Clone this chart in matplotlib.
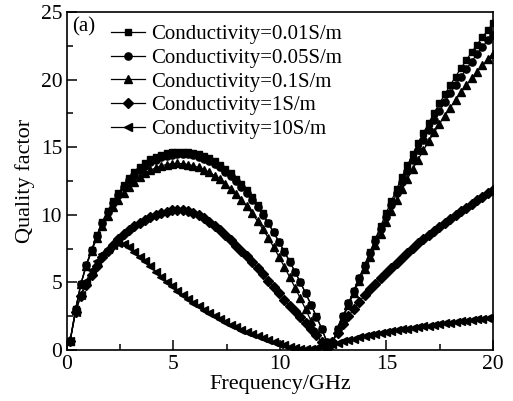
import numpy as np
import matplotlib
matplotlib.use("Agg")
import matplotlib.pyplot as plt
from matplotlib.ticker import MultipleLocator

plt.rcParams['font.family'] = ['Liberation Serif', 'DejaVu Serif']

# Q, one value per marker (80 markers, 0.15 .. 20 GHz)
q_001 = [0.7, 3.0, 4.9, 6.3, 7.4, 8.5, 9.5, 10.3, 11.0, 11.6,
         12.2, 12.75, 13.2, 13.55, 13.85, 14.1, 14.3, 14.45, 14.55, 14.62,
         14.66, 14.68, 14.66, 14.6, 14.5, 14.36, 14.18, 13.96, 13.7, 13.4,
         13.06, 12.68, 12.26, 11.8, 11.3, 10.76, 10.1, 9.4, 8.72, 8.02,
         7.3, 6.56, 5.8, 5.02, 4.2, 3.36, 2.48, 1.58, 0.5,
         0.55, 1.55, 2.5, 3.45, 4.4, 5.35, 6.3, 7.25, 8.2, 9.15,
         10.1, 11.0, 11.9, 12.8, 13.65, 14.48, 15.28, 16.06, 16.81, 17.54,
         18.24, 18.92, 19.58, 20.22, 20.84, 21.44, 22.02, 22.58, 23.12, 23.64, 24.2]

q_005 = [0.7, 3.0, 4.9, 6.3, 7.4, 8.45, 9.4, 10.2, 10.9, 11.5,
         12.05, 12.55, 12.98, 13.33, 13.63, 13.88, 14.08, 14.24, 14.36, 14.44,
         14.49, 14.5, 14.47, 14.4, 14.3, 14.16, 13.98, 13.76, 13.5, 13.2,
         12.86, 12.48, 12.06, 11.6, 11.1, 10.56, 9.98, 9.36, 8.7, 8.0,
         7.28, 6.54, 5.78, 5.0, 4.18, 3.34, 2.46, 1.56, 0.62,
         0.6, 1.55, 2.5, 3.45, 4.38, 5.3, 6.22, 7.14, 8.05, 8.95,
         9.85, 10.72, 11.58, 12.42, 13.24, 14.04, 14.82, 15.57, 16.3, 17.0,
         17.68, 18.34, 18.98, 19.6, 20.2, 20.78, 21.34, 21.88, 22.4, 22.9, 23.3]

q_01 = [0.7, 2.95, 4.85, 6.2, 7.3, 8.3, 9.15, 9.9, 10.55, 11.1,
        11.6, 12.05, 12.45, 12.8, 13.08, 13.3, 13.48, 13.62, 13.72, 13.78,
        13.8, 13.78, 13.72, 13.63, 13.5, 13.34, 13.14, 12.9, 12.62, 12.3,
        11.94, 11.54, 11.1, 10.62, 10.1, 9.54, 8.94, 8.3, 7.62, 6.9,
        6.16, 5.4, 4.62, 3.82, 3.0, 2.16, 1.3, 0.46, 0.3,
        0.55, 1.48, 2.4, 3.32, 4.22, 5.12, 6.0, 6.88, 7.75, 8.6,
        9.45, 10.28, 11.1, 11.9, 12.65, 13.38, 14.09, 14.78, 15.45, 16.1,
        16.73, 17.34, 17.93, 18.5, 19.05, 19.58, 20.09, 20.58, 21.05, 21.5, 21.93]

q_1 = [0.7, 2.8, 4.0, 4.8, 5.55, 6.25, 6.85, 7.35, 7.8, 8.2,
       8.55, 8.85, 9.15, 9.4, 9.62, 9.82, 9.98, 10.12, 10.24, 10.32,
       10.36, 10.36, 10.28, 10.15, 9.97, 9.74, 9.47, 9.17, 8.85, 8.5,
       8.12, 7.72, 7.32, 6.92, 6.5, 6.06, 5.6, 5.14, 4.68, 4.2,
       3.7, 3.28, 2.86, 2.44, 2.0, 1.55, 1.08, 0.6, 0.12,
       0.6, 1.25, 1.9, 2.5, 3.05, 3.55, 4.05, 4.5, 4.9, 5.3,
       5.68, 6.07, 6.45, 6.83, 7.2, 7.55, 7.9, 8.22, 8.52, 8.82,
       9.12, 9.4, 9.7, 9.98, 10.25, 10.52, 10.8, 11.06, 11.32, 11.58, 11.85]

q_10 = [0.7, 2.8, 4.1, 5.1, 5.9, 6.6, 7.1, 7.5, 7.8, 7.95,
        7.85, 7.6, 7.25, 6.9, 6.55, 6.18, 5.8, 5.42, 5.05, 4.7,
        4.38, 4.08, 3.78, 3.5, 3.24, 2.98, 2.74, 2.5, 2.28, 2.06,
        1.86, 1.67, 1.5, 1.33, 1.17, 1.01, 0.86, 0.72, 0.58, 0.46,
        0.35, 0.25, 0.16, 0.09, 0.04, 0.06, 0.12, 0.2, 0.3,
        0.42, 0.54, 0.65, 0.75, 0.84, 0.93, 1.01, 1.09, 1.17, 1.25,
        1.32, 1.39, 1.46, 1.52, 1.58, 1.64, 1.7, 1.76, 1.81, 1.86,
        1.91, 1.96, 2.01, 2.06, 2.11, 2.16, 2.21, 2.26, 2.31, 2.37, 2.45]

freq = np.linspace(0.15, 20, len(q_001))

labels = ['Conductivity=0.01S/m', 'Conductivity=0.05S/m', 'Conductivity=0.1S/m',
          'Conductivity=1S/m', 'Conductivity=10S/m']
series = [q_001, q_005, q_01, q_1, q_10]
markers = ['s', 'o', '^', 'D', '<']
msizes = [4.7, 5.2, 5.8, 4.8, 6]

fig = plt.figure(figsize=(5.13, 4.01), dpi=100)
ax = fig.add_axes([0.1306, 0.1272, 0.8304, 0.8428])

for q, lab, m, ms in zip(series, labels, markers, msizes):
    ax.plot(freq, q, color='black', lw=0.9, marker=m, ms=ms, mec='black', mfc='black', label=lab)

ax.set_xlim(0, 20)
ax.set_ylim(0, 25)
ax.xaxis.set_major_locator(MultipleLocator(5))
ax.xaxis.set_minor_locator(MultipleLocator(2.5))
ax.yaxis.set_major_locator(MultipleLocator(5))
ax.yaxis.set_minor_locator(MultipleLocator(2.5))
ax.tick_params(which='both', direction='in', top=False, right=False, width=1.1, labelsize=15.5)
ax.tick_params(which='major', length=7)
ax.tick_params(which='minor', length=4.5)
for s in ax.spines.values():
    s.set_linewidth(1.2)

ax.set_xlabel('Frequency/GHz', fontsize=16, labelpad=1)
ax.set_ylabel('Quality factor', fontsize=16, labelpad=4)

ax.text(0.012, 0.985, '(a)', transform=ax.transAxes, fontsize=15, va='top', ha='left')
ax.legend(loc='upper left', bbox_to_anchor=(0.075, 1.0), frameon=False, fontsize=15,
          numpoints=1, handlelength=1.6, handletextpad=0.3, labelspacing=0.2,
          borderaxespad=0.2)

fig.savefig('out.png', dpi=100)
